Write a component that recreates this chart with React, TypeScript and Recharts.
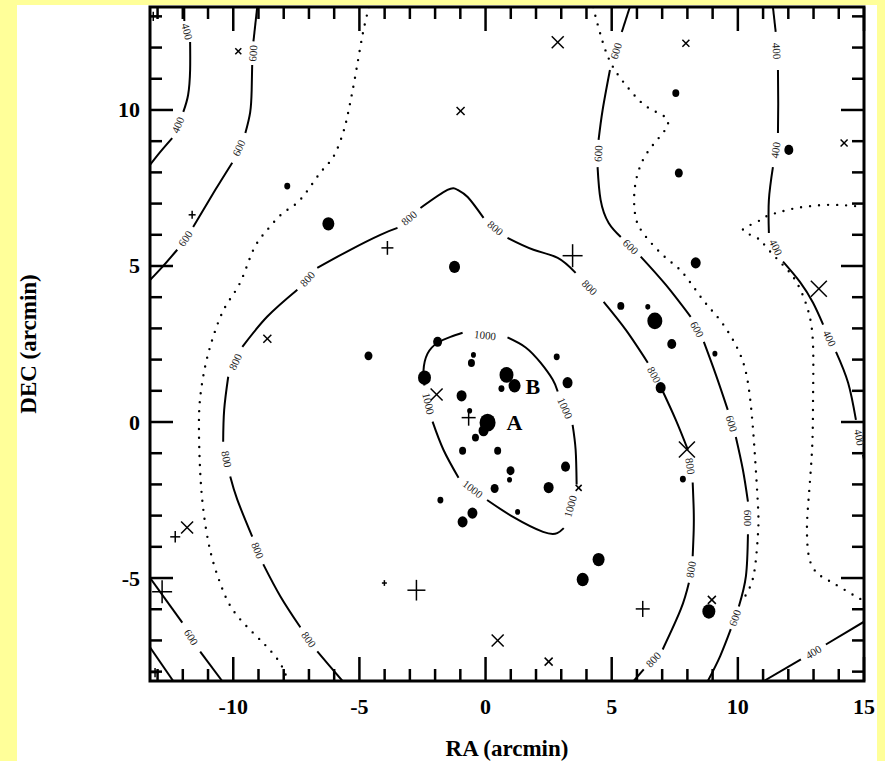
import React from "react";
import { ComposedChart, Scatter, XAxis, YAxis, ZAxis, ReferenceArea, Label } from "recharts";

type Pt = { x: number; y: number };
type Mark = { x: number; y: number; z: number };

const X_DOMAIN: [number, number] = [-13.3, 15];
const Y_DOMAIN: [number, number] = [-8.3, 13.3];
const xTicks = [-13, -12, -11, -10, -9, -8, -7, -6, -5, -4, -3, -2, -1, 0, 1, 2, 3, 4, 5, 6, 7, 8, 9, 10, 11, 12, 13, 14, 15];
const yTicks = [-8, -7, -6, -5, -4, -3, -2, -1, 0, 1, 2, 3, 4, 5, 6, 7, 8, 9, 10, 11, 12, 13];

const pts = (list: number[][]): Pt[] => list.map(([x, y]) => ({ x, y }));
const marks = (list: number[][]): Mark[] => list.map(([x, y, z]) => ({ x, y, z }));

// solid contours, split where the level label sits
const level400NW = [
  pts([[-11.94, 13.3], [-11.94, 12.85]]),
  pts([[-11.71, 12.18], [-11.71, 11.28], [-11.79, 10.48], [-11.98, 9.94]]),
  pts([[-12.42, 9.1], [-12.9, 8.65], [-13.3, 8.24]]),
];
const level600NW = [
  pts([[-9.05, 13.3], [-9.2, 12.2]]),
  pts([[-9.25, 11.44], [-9.27, 10.64], [-9.33, 9.92], [-9.52, 9.26]]),
  pts([[-10.04, 8.31], [-10.71, 7.44], [-11.59, 6.25]]),
  pts([[-12.22, 5.52], [-12.8, 4.98], [-13.3, 4.55]]),
];
const level800 = [
  pts([[-5.67, -8.3], [-6.2, -7.8], [-6.67, -7.35]]),
  pts([[-7.34, -6.58], [-8.13, -5.59], [-8.81, -4.56]]),
  pts([[-9.25, -3.67], [-9.84, -2.49], [-10.12, -1.75]]),
  pts([[-10.4, -0.63], [-10.36, 0.39], [-10.2, 1.45]]),
  pts([[-9.64, 2.41], [-8.65, 3.38], [-7.46, 4.24]]),
  pts([[-6.67, 4.94], [-5.36, 5.52], [-4.17, 6.0], [-3.49, 6.22]]),
  pts([[-2.58, 6.86], [-1.51, 7.44], [-1.11, 7.44], [-0.71, 7.21], [-0.08, 6.54]]),
  pts([[0.87, 5.9], [1.9, 5.52], [2.86, 5.26], [3.57, 4.78]]),
  pts([[4.68, 3.85], [5.56, 2.95], [6.43, 1.9]]),
  pts([[6.94, 1.13], [7.54, 0.07], [8.02, -0.89]]),
  pts([[8.21, -1.94], [8.25, -2.8], [8.25, -3.47], [8.21, -4.3]]),
  pts([[8.06, -5.15], [7.74, -6.0], [7.02, -7.29]]),
  pts([[6.27, -7.93], [5.87, -8.3]]),
];
const level1000 = [
  pts([[0.87, 2.71], [1.59, 2.39], [2.18, 1.9], [2.66, 1.36], [2.86, 0.98]]),
  pts([[3.45, -0.09], [3.57, -0.89], [3.61, -2.0]]),
  pts([[3.1, -3.4], [2.84, -3.56], [2.28, -3.52], [1.09, -3.04], [0.06, -2.5]]),
  pts([[-1.07, -1.79], [-1.67, -0.89], [-2.1, 0.01]]),
  pts([[-2.42, 1.17], [-2.46, 1.65], [-2.3, 2.19], [-1.9, 2.54], [-1.39, 2.73], [-0.91, 2.86]]),
];
const level600E = [
  pts([[5.72, 13.3], [5.4, 12.5]]),
  pts([[4.93, 11.28], [4.64, 10.0], [4.48, 9.04]]),
  pts([[4.44, 8.17], [4.56, 7.12], [4.88, 6.38], [5.36, 5.93]]),
  pts([[6.15, 5.3], [7.14, 4.4], [8.13, 3.37]]),
  pts([[8.65, 2.57], [9.13, 1.51], [9.6, 0.39]]),
  pts([[9.92, -0.48], [10.2, -1.53], [10.4, -2.55]]),
  pts([[10.4, -3.6], [10.32, -4.94], [10.04, -5.91]]),
  pts([[9.72, -6.64], [9.3, -7.5], [8.81, -8.3]]),
];
const level400E = [
  pts([[11.39, 13.3], [11.5, 12.5]]),
  pts([[11.59, 11.28], [11.6, 10.2], [11.59, 9.26]]),
  pts([[11.39, 8.17], [11.23, 7.12], [11.23, 6.06]]),
  pts([[11.79, 5.14], [12.46, 4.49], [12.98, 3.82], [13.38, 3.12]]),
  pts([[13.89, 2.25], [14.37, 1.26], [14.68, 0.07]]),
  pts([[14.96, -1.05], [15.0, -1.2]]),
];
const level400SE = [
  pts([[11.03, -8.3], [12.5, -7.61]]),
  pts([[13.49, -7.13], [15.0, -6.4]]),
];
const level600SW = [
  pts([[-13.3, -4.99], [-12.02, -6.43]]),
  pts([[-11.31, -7.36], [-10.44, -8.3]]),
];
const level400SW = [pts([[-13.3, -7.22], [-12.38, -8.3]])];

// dotted (unlabelled) contours
const dottedW = pts([
  [-4.62, 13.3], [-4.86, 12.47], [-5.1, 11.38], [-5.29, 10.54], [-5.45, 9.9], [-5.65, 9.26],
  [-6.04, 8.49], [-6.56, 7.98], [-7.35, 7.12], [-8.03, 6.7], [-8.66, 6.15], [-9.21, 5.51],
  [-9.73, 4.46], [-10.32, 3.69], [-10.8, 2.72], [-11.12, 1.76], [-11.32, 0.71], [-11.36, -0.26],
  [-11.32, -1.44], [-11.2, -2.72], [-10.92, -4.1], [-10.52, -5.16], [-10.01, -6.03],
  [-9.21, -6.76], [-8.66, -7.21], [-8.15, -7.72], [-7.83, -8.3],
]);
const dottedE = pts([
  [4.26, 13.3], [4.62, 12.24], [5.05, 11.38], [5.72, 10.64], [6.4, 10.1], [7.11, 9.78],
  [7.19, 9.46], [6.8, 9.04], [6.24, 8.4], [5.92, 7.53], [5.92, 6.7], [6.24, 6.06],
  [7.11, 5.29], [7.82, 4.78], [8.62, 3.91], [9.29, 3.27], [9.96, 2.4], [10.36, 1.44],
  [10.56, 0.16], [10.68, -1.12], [10.8, -2.72], [10.8, -3.56], [10.68, -4.65],
  [10.48, -5.29], [10.2, -5.7],
]);
const dottedFarE = pts([
  [15.0, 6.89], [13.65, 6.96], [12.34, 6.86], [11.67, 6.73], [11.15, 6.6], [10.68, 6.38],
  [10.2, 6.15], [10.76, 5.9], [11.15, 5.58], [11.79, 5.03], [12.34, 4.46], [12.78, 3.59],
  [12.98, 2.47], [12.98, 0.71], [12.94, -0.9], [12.78, -2.72], [12.74, -3.56], [12.82, -4.33],
  [13.14, -4.84], [13.77, -5.16], [14.72, -5.61], [15.0, -5.71],
]);

// sources
const galaxies = marks([
  [-7.86, 7.56, 3], [-6.23, 6.35, 6], [-1.23, 4.97, 5.5], [-4.64, 2.12, 4], [-1.9, 2.57, 4.5],
  [-2.42, 1.42, 6.5], [-0.48, 2.15, 2.5], [-0.56, 1.89, 3.5], [0.83, 1.51, 7], [1.15, 1.16, 6],
  [0.63, 1.07, 3], [-0.95, 0.84, 5], [-0.63, 0.36, 2.5], [0.08, -0.02, 8], [-0.08, -0.28, 5],
  [-0.4, -0.5, 3.5], [-0.91, -0.92, 3.5], [0.48, -0.92, 3.5], [0.99, -1.56, 4], [0.95, -1.85, 2.5],
  [0.36, -2.13, 4], [2.5, -2.1, 5], [3.17, -1.43, 4.5], [2.82, 2.09, 3], [3.25, 1.26, 5],
  [-1.79, -2.5, 3], [-0.52, -2.92, 5], [-0.91, -3.2, 5], [1.27, -2.88, 2.5], [3.85, -5.05, 6],
  [4.48, -4.41, 6], [8.85, -6.07, 6.5], [7.82, -1.83, 3], [6.94, 1.1, 5], [7.38, 2.5, 4.5],
  [6.71, 3.24, 7.5], [6.43, 3.69, 2.5], [5.36, 3.72, 3.5], [9.09, 2.19, 2.5], [8.33, 5.1, 5],
  [7.66, 7.98, 4], [7.54, 10.54, 3.5], [12.02, 8.72, 4.5],
]);
const crossSources = marks([
  [-9.8, 11.88, 3], [-0.99, 9.97, 4], [2.86, 12.17, 6], [7.94, 12.14, 3.5], [14.21, 8.94, 3.5],
  [-8.65, 2.67, 4], [-1.94, 0.88, 6], [13.21, 4.27, 8], [7.98, -0.88, 8], [3.69, -2.11, 3],
  [-11.83, -3.38, 6], [0.48, -7.0, 6], [2.5, -7.68, 4], [8.97, -5.7, 4],
]);
const plusSources = marks([
  [-13.17, 13.0, 4], [-11.63, 6.64, 3.5], [-3.89, 5.58, 6], [3.45, 5.33, 10], [-0.67, 0.14, 7],
  [-12.3, -3.68, 5], [-12.82, -5.44, 10], [-4.01, -5.16, 2.5], [-2.74, -5.39, 9],
  [6.23, -5.99, 7], [-13.1, -8.03, 4],
]);
const clusterNames = [
  { x: 1.15, y: -0.02, name: "A" },
  { x: 1.87, y: 1.13, name: "B" },
];

const PLOT = { left: 150, top: 7, right: 864, bottom: 681 };
const PX_X = (PLOT.right - PLOT.left) / (X_DOMAIN[1] - X_DOMAIN[0]);
const PX_Y = (PLOT.bottom - PLOT.top) / (Y_DOMAIN[1] - Y_DOMAIN[0]);
const SERIF = "'Liberation Serif', 'DejaVu Serif', serif";

function gapLabels(pieces: Pt[][], level: string, closed = false) {
  const out: any[] = [];
  const n = closed ? pieces.length : pieces.length - 1;
  for (let i = 0; i < n; i++) {
    const a = pieces[i][pieces[i].length - 1];
    const b = pieces[(i + 1) % pieces.length][0];
    out.push({ x: (a.x + b.x) / 2, y: (a.y + b.y) / 2, level, dx: b.x - a.x, dy: b.y - a.y });
  }
  return out;
}

const solidPieces = [
  ...level400NW, ...level600NW, ...level800, ...level1000, ...level600E,
  ...level400E, ...level400SE, ...level600SW, ...level400SW,
];
const dottedPieces = [dottedW, dottedE, dottedFarE];
const contourLabels = [
  ...gapLabels(level400NW, "400"),
  ...gapLabels(level600NW, "600"),
  ...gapLabels(level800, "800"),
  ...gapLabels(level1000, "1000", true),
  ...gapLabels(level600E, "600"),
  ...gapLabels(level400E, "400"),
  ...gapLabels(level400SE, "400"),
  ...gapLabels(level600SW, "600"),
];

const Nothing = () => <g />;

const ContourLabel = (props: any) => {
  const { cx, cy, payload } = props;
  let a = (Math.atan2(-payload.dy * PX_Y, payload.dx * PX_X) * 180) / Math.PI;
  if (a > 90) a -= 180;
  if (a < -90) a += 180;
  return (
    <text x={cx} y={cy} transform={`rotate(${a} ${cx} ${cy})`} textAnchor="middle"
      dominantBaseline="central" fontSize={11} fontFamily={SERIF} fill="#222">
      {payload.level}
    </text>
  );
};

const sizeOf = (props: any) => (typeof props.size === "number" && !isNaN(props.size) ? props.size : props.payload.z);

const GalaxyDot = (props: any) => {
  const r = sizeOf(props);
  return <ellipse cx={props.cx} cy={props.cy} rx={r} ry={r * 1.12} fill="#000" />;
};

const CrossMark = (props: any) => {
  const s = sizeOf(props);
  const { cx, cy } = props;
  return (
    <g stroke="#000" strokeWidth={1.5}>
      <line x1={cx - s} y1={cy - s} x2={cx + s} y2={cy + s} />
      <line x1={cx - s} y1={cy + s} x2={cx + s} y2={cy - s} />
    </g>
  );
};

const PlusMark = (props: any) => {
  const s = sizeOf(props);
  const { cx, cy } = props;
  return (
    <g stroke="#000" strokeWidth={1.5}>
      <line x1={cx - s} y1={cy} x2={cx + s} y2={cy} />
      <line x1={cx} y1={cy - s * 1.15} x2={cx} y2={cy + s * 1.15} />
    </g>
  );
};

const ClusterName = (props: any) => (
  <text x={props.cx} y={props.cy} textAnchor="middle" dominantBaseline="central"
    fontSize={22} fontWeight="bold" fontFamily={SERIF} fill="#000">
    {props.payload.name}
  </text>
);

const tickText = { fontSize: 22, fontWeight: "bold" as const, fontFamily: SERIF, fill: "#000" };

const renderXTick = (props: any) => {
  const { x, payload } = props;
  const v = payload.value;
  const len = v % 5 === 0 ? 24 : 12;
  return (
    <g>
      <line x1={x} y1={PLOT.bottom} x2={x} y2={PLOT.bottom - len} stroke="#000" strokeWidth={2.5} />
      <line x1={x} y1={PLOT.top} x2={x} y2={PLOT.top + len} stroke="#000" strokeWidth={2.5} />
      {v % 5 === 0 && (
        <text x={x} y={PLOT.bottom + 25} textAnchor="middle" dominantBaseline="central" {...tickText}>
          {v}
        </text>
      )}
    </g>
  );
};

const renderYTick = (props: any) => {
  const { y, payload } = props;
  const v = payload.value;
  const len = v % 5 === 0 ? 23 : 12;
  return (
    <g>
      <line x1={PLOT.left} y1={y} x2={PLOT.left + len} y2={y} stroke="#000" strokeWidth={2.5} />
      <line x1={PLOT.right - len} y1={y} x2={PLOT.right} y2={y} stroke="#000" strokeWidth={2.5} />
      {v % 5 === 0 && (
        <text x={PLOT.left - 10} y={y} textAnchor="end" dominantBaseline="central" {...tickText}>
          {v}
        </text>
      )}
    </g>
  );
};

const RATitle = () => (
  <text x={(PLOT.left + PLOT.right) / 2} y={748} textAnchor="middle" dominantBaseline="central"
    fontSize={23} fontWeight="bold" fontFamily={SERIF} fill="#000">
    RA (arcmin)
  </text>
);

const DECTitle = () => {
  const cy = (PLOT.top + PLOT.bottom) / 2;
  return (
    <text x={28} y={cy} transform={`rotate(-90 28 ${cy})`} textAnchor="middle" dominantBaseline="central"
      fontSize={23} fontWeight="bold" fontFamily={SERIF} fill="#000">
      DEC (arcmin)
    </text>
  );
};

export default function App() {
  return (
    <div style={{ position: "absolute", left: 0, top: 0, width: 885, height: 761, background: "#ffff99", overflow: "hidden" }}>
      <div style={{ position: "absolute", left: 17, top: 5, width: 860, height: 756, background: "#ffffff" }} />
      <div style={{ position: "absolute", left: 0, top: 0 }}>
        <ComposedChart width={885} height={761} margin={{ top: 7, right: 21, bottom: 0, left: 0 }}>
          <XAxis type="number" dataKey="x" domain={X_DOMAIN} ticks={xTicks} interval={0} allowDataOverflow
            height={80} tickLine={false} axisLine={false} tickSize={0} tickMargin={0} tick={renderXTick}>
            <Label content={RATitle} />
          </XAxis>
          <YAxis type="number" dataKey="y" domain={Y_DOMAIN} ticks={yTicks} interval={0} allowDataOverflow
            width={150} tickLine={false} axisLine={false} tickSize={0} tickMargin={0} tick={renderYTick}>
            <Label content={DECTitle} />
          </YAxis>
          <ZAxis type="number" dataKey="z" domain={[0, 10]} range={[0, 10]} />
          {dottedPieces.map((piece, i) => (
            <Scatter key={`d${i}`} data={piece} fill="#000" shape={Nothing} isAnimationActive={false}
              line={{ stroke: "#000", strokeWidth: 2.4, strokeDasharray: "0 9", strokeLinecap: "round" }}
              lineType="joint" lineJointType="natural" />
          ))}
          {solidPieces.map((piece, i) => (
            <Scatter key={`s${i}`} data={piece} fill="#000" shape={Nothing} isAnimationActive={false}
              line={{ stroke: "#000", strokeWidth: 2 }} lineType="joint" lineJointType="natural" />
          ))}
          <Scatter data={contourLabels} fill="#000" shape={ContourLabel} isAnimationActive={false} />
          <Scatter data={galaxies} fill="#000" shape={GalaxyDot} isAnimationActive={false} />
          <Scatter data={crossSources} fill="#000" shape={CrossMark} isAnimationActive={false} />
          <Scatter data={plusSources} fill="#000" shape={PlusMark} isAnimationActive={false} />
          <Scatter data={clusterNames} fill="#000" shape={ClusterName} isAnimationActive={false} />
          <ReferenceArea x1={X_DOMAIN[0]} x2={X_DOMAIN[1]} y1={Y_DOMAIN[0]} y2={Y_DOMAIN[1]}
            fill="none" fillOpacity={0} stroke="#000" strokeWidth={3} />
        </ComposedChart>
      </div>
    </div>
  );
}
